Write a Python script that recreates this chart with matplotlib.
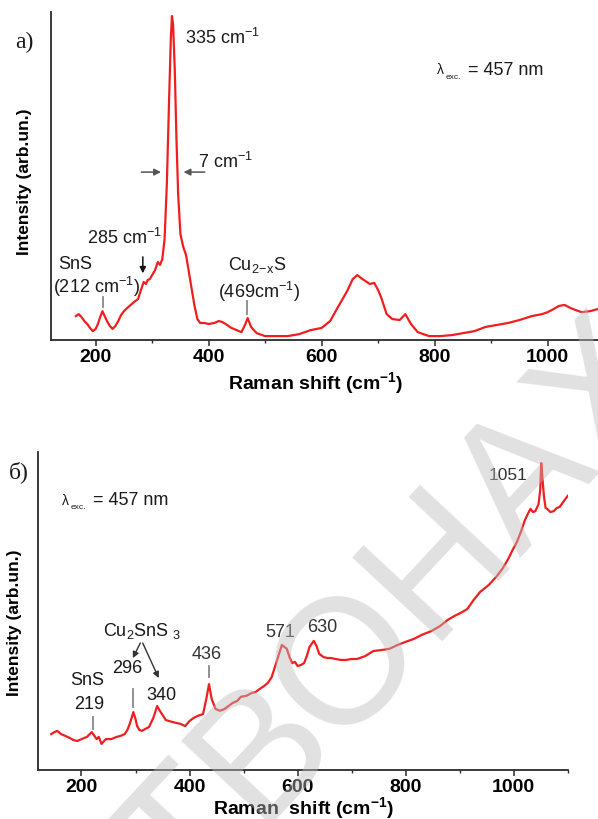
import matplotlib
matplotlib.use('Agg')
import matplotlib.pyplot as plt
from matplotlib.ticker import FixedLocator

plt.rcParams['font.family'] = ['Liberation Sans', 'DejaVu Sans']
plt.rcParams['mathtext.fontset'] = 'custom'
plt.rcParams['mathtext.rm'] = 'Liberation Sans'
plt.rcParams['mathtext.it'] = 'Liberation Sans:italic'
plt.rcParams['mathtext.bf'] = 'Liberation Sans:bold'

# a) spectrum (Raman shift, cm-1 / intensity, arb. units)
shift_a = [165, 170, 175, 180, 185, 190, 195, 200, 204, 208, 212, 216, 220, 225, 230,
           235, 240, 245, 250, 256, 262, 268, 275, 280, 285, 289, 292, 296, 300, 305,
           310, 314, 318, 322, 326, 330, 333, 335, 337, 340, 343, 346, 350, 355, 360,
           365, 370, 375, 380, 385, 392, 400, 410, 418, 424, 430, 440, 450, 458, 465,
           469, 475, 485, 500, 520, 540, 560, 580, 600, 615, 630, 645, 655, 663, 672,
           680, 685, 693, 700, 705, 715, 725, 738, 748, 758, 770, 790, 810, 830, 850,
           870, 890, 910, 930, 950, 972, 990, 1000, 1010, 1020, 1030, 1040, 1050, 1060,
           1075, 1090]
intensity_a = [7.3, 7.9, 7.0, 5.8, 4.9, 3.7, 2.7, 3.4, 4.9, 7.0, 8.8, 7.3, 5.8, 4.3, 3.4,
               4.3, 5.8, 7.6, 8.8, 9.8, 10.7, 11.6, 12.5, 15.2, 17.7, 17.1, 18.3, 18.6, 19.8, 21.3,
               23.8, 22.9, 24.7, 30.8, 47.6, 73.5, 91.8, 98.8, 96.3, 82.6, 61.3, 44.5, 32.3, 28.4, 25.9,
               20.7, 15.5, 10.4, 6.4, 5.2, 5.2, 4.9, 5.2, 5.8, 5.5, 4.9, 3.7, 3.0, 2.4, 4.9,
               6.7, 4.0, 2.1, 1.2, 1.2, 1.2, 1.8, 3.0, 3.7, 5.8, 10.4, 14.9, 18.6, 19.8, 18.6,
               17.7, 17.1, 17.4, 15.2, 13.1, 7.9, 6.4, 6.1, 7.9, 4.9, 2.4, 1.2, 1.2, 1.5, 2.1,
               2.7, 4.0, 4.6, 5.2, 6.1, 7.3, 7.9, 8.5, 9.4, 10.4, 10.7, 9.8, 9.1, 8.5,
               8.8, 9.5]

# б) spectrum
shift_b = [144, 150, 155, 162, 170, 178, 185, 192, 200, 210, 219, 224, 228, 232, 237,
           245, 255, 265, 272, 280, 285, 290, 296, 300, 303, 307, 312, 318, 325, 333,
           340, 345, 350, 356, 362, 368, 375, 383, 392, 400, 408, 415, 425, 431, 436,
           441, 448, 456, 465, 472, 480, 488, 495, 505, 515, 522, 530, 538, 545, 552,
           558, 565, 571, 580, 585, 590, 595, 600, 606, 612, 617, 622, 630, 635, 640,
           648, 655, 662, 670, 680, 690, 700, 710, 725, 740, 755, 770, 785, 800, 815,
           830, 848, 864, 878, 890, 902, 914, 926, 938, 954, 969, 980, 990, 998, 1006,
           1014, 1020, 1026, 1031, 1036, 1040, 1046, 1049, 1051, 1053, 1056, 1059, 1062,
           1068, 1074, 1080, 1085, 1093, 1100]
intensity_b = [11.3, 11.9, 12.3, 11.3, 10.7, 10.1, 9.4, 9.1, 9.7, 10.4, 11.9, 10.7, 9.7, 10.4, 8.2,
               9.7, 9.7, 10.4, 10.7, 11.3, 12.6, 14.8, 18.2, 16.0, 13.8, 12.6, 12.3, 12.9, 13.5, 16.4,
               20.1, 18.6, 17.3, 15.7, 15.4, 15.1, 14.8, 14.5, 13.8, 15.4, 16.4, 17.0, 17.6, 22.3, 27.0,
               22.3, 19.2, 18.6, 19.2, 20.1, 21.1, 21.7, 23.0, 23.3, 24.2, 24.5, 25.5, 26.4, 27.4, 29.2,
               32.4, 36.2, 39.3, 38.1, 35.5, 33.6, 34.0, 32.7, 33.0, 33.6, 35.8, 38.7, 40.6, 39.0, 36.5,
               35.5, 35.2, 35.2, 34.9, 34.6, 34.6, 34.9, 34.9, 35.8, 37.4, 37.7, 38.1, 39.3, 40.3, 41.2,
               42.5, 43.7, 45.3, 47.2, 48.4, 49.4, 50.6, 53.5, 56.0, 58.2, 61.0, 63.5, 66.4, 69.2, 71.7,
               75.2, 78.3, 80.5, 82.1, 81.1, 81.4, 83.6, 88.0, 96.5, 92.0, 86.0, 82.4, 82.1,
               81.1, 81.4, 82.4, 82.7, 84.6, 86.2]

major_ticks = [200, 400, 600, 800, 1000]
minor_ticks = [300, 500, 700, 900, 1100]

RED = '#f01e1e'
TXT = '#1a1a1a'


def style_axes(ax, xlim, ylabel_x, ylabel_y, xlabel_x, xlabel_y, xlabel):
    ax.set_xlim(*xlim)
    ax.set_ylim(0, 100)
    for side in ('top', 'right'):
        ax.spines[side].set_visible(False)
    for side in ('left', 'bottom'):
        ax.spines[side].set_linewidth(1.3)
        ax.spines[side].set_color('#2a2a2a')
    ax.set_yticks([])
    ax.xaxis.set_major_locator(FixedLocator(major_ticks))
    ax.xaxis.set_minor_locator(FixedLocator(minor_ticks))
    ax.tick_params(axis='x', which='major', length=4, width=1.1, pad=1.5,
                   labelsize=14, color='#2a2a2a')
    ax.tick_params(axis='x', which='minor', length=2.5, width=1.0, color='#2a2a2a')
    for lab in ax.get_xticklabels():
        lab.set_fontweight('bold')
    ax.set_xlabel(xlabel, fontsize=14, fontweight='bold')
    ax.xaxis.set_label_coords(xlabel_x, xlabel_y)
    ax.set_ylabel('Intensity (arb.un.)', fontsize=12.5, fontweight='bold')
    ax.yaxis.set_label_coords(ylabel_x, ylabel_y)


def lambda_label(ax, x, y):
    ax.annotate('λ', xy=(x, y), xytext=(0, 0), textcoords='offset pixels',
                fontsize=10, color=TXT, ha='left', va='center')
    ax.annotate('exc.', xy=(x, y), xytext=(9, -7), textcoords='offset pixels',
                fontsize=6, color=TXT, ha='left', va='center')
    ax.annotate('= 457 nm', xy=(x, y), xytext=(31, 0), textcoords='offset pixels',
                fontsize=13, color=TXT, ha='left', va='center')


fig = plt.figure(figsize=(5.98, 8.2), dpi=100)

# ---- panel a)
ax1 = fig.add_axes([0.0853, 0.5841, 0.9147, 0.4])
ax1.plot(shift_a, intensity_a, color=RED, linewidth=1.6)
style_axes(ax1, (121, 1089), -0.034, 0.485, 0.4845, -0.088,
           r'Raman shift (cm$^{\mathbf{-1}}$)')

ax1.text(359, 92.4, r'335 cm$^{-1}$', fontsize=13, color=TXT, va='center')
ax1.text(382, 54.6, r'7 cm$^{-1}$', fontsize=13, color=TXT, va='center')
ax1.annotate('', xy=(320.6, 51.2), xytext=(276, 51.2),
             arrowprops=dict(arrowstyle='-|>', color='#555555', lw=1.1, mutation_scale=10))
ax1.annotate('', xy=(350.6, 51.2), xytext=(398, 51.2),
             arrowprops=dict(arrowstyle='-|>', color='#555555', lw=1.1, mutation_scale=10))
ax1.text(184.6, 31.4, r'285 cm$^{-1}$', fontsize=13, color=TXT, va='center')
ax1.annotate('', xy=(283.5, 19.5), xytext=(283.5, 26.2),
             arrowprops=dict(arrowstyle='-|>', color='#111111', lw=1.1, mutation_scale=9))
ax1.text(133.5, 23.2, 'SnS', fontsize=13, color=TXT, va='center')
ax1.text(124.7, 16.5, r'(212 cm$^{-1}$)', fontsize=13, color=TXT, va='center')
ax1.plot([213, 213], [10.1, 13.1], color='#888888', lw=1.3)
ax1.text(433.5, 23.2, r'Cu$_{\mathregular{2\!-\!x}}$S', fontsize=13, color=TXT, va='center')
ax1.text(415.8, 14.9, r'(469cm$^{-1}$)', fontsize=13, color=TXT, va='center')
ax1.plot([467, 467], [7.9, 11.9], color='#888888', lw=1.3)
lambda_label(ax1, 804, 82.6)

# ---- panel б)
ax2 = fig.add_axes([0.064, 0.0598, 0.8863, 0.3878])
ax2.plot(shift_b, intensity_b, color=RED, linewidth=1.6)
style_axes(ax2, (120, 1101), -0.030, 0.465, 0.501, -0.076,
           r'Raman  shift (cm$^{\mathbf{-1}}$)')

lambda_label(ax2, 163.5, 84.9)
ax2.text(953, 92.8, '1051', fontsize=12.5, color='#333333', va='center')
ax2.text(239.7, 44.0, r'Cu$_{\mathregular{2}}$SnS $_{\mathregular{3}}$', fontsize=13,
         color=TXT, va='center')
ax2.annotate('', xy=(292.7, 34.4), xytext=(311.2, 40.7),
             arrowprops=dict(arrowstyle='-|>', color='#333333', lw=1.0, mutation_scale=9))
ax2.annotate('', xy=(345.1, 28.1), xytext=(311.2, 40.7),
             arrowprops=dict(arrowstyle='-|>', color='#333333', lw=1.0, mutation_scale=9))
ax2.text(256, 32.1, '296', fontsize=13, color=TXT, va='center')
ax2.text(319.2, 23.6, '340', fontsize=13, color=TXT, va='center')
ax2.text(180, 28.6, 'SnS', fontsize=13, color=TXT, va='center')
ax2.text(185.7, 20.8, '219', fontsize=13, color=TXT, va='center')
ax2.plot([221, 221], [12.9, 16.7], color='#888888', lw=1.3)
ax2.plot([295.6, 295.6], [19.8, 25.5], color='#888888', lw=1.3)
ax2.text(404.4, 36.5, '436', fontsize=13, color='#333333', va='center')
ax2.plot([436, 436], [29.2, 32.7], color='#888888', lw=1.3)
ax2.text(539.8, 43.4, '571', fontsize=13, color='#333333', va='center')
ax2.text(617.6, 45.0, '630', fontsize=13, color='#333333', va='center')

# panel letters
fig.text(15 / 598, 1 - 42 / 820, 'a)', family='Liberation Serif', fontsize=17,
         color=TXT, va='center')
fig.text(9 / 598, 1 - 472 / 820, 'б)', family='Liberation Serif', fontsize=17,
         color=TXT, va='center')

# watermark
fig.text(400 / 598, 1 - 615 / 820, 'ТВОНАХ', rotation=47, fontsize=128,
         color='#bdbdbd', alpha=0.45, ha='center', va='center')

fig.savefig('out.png', dpi=100)
